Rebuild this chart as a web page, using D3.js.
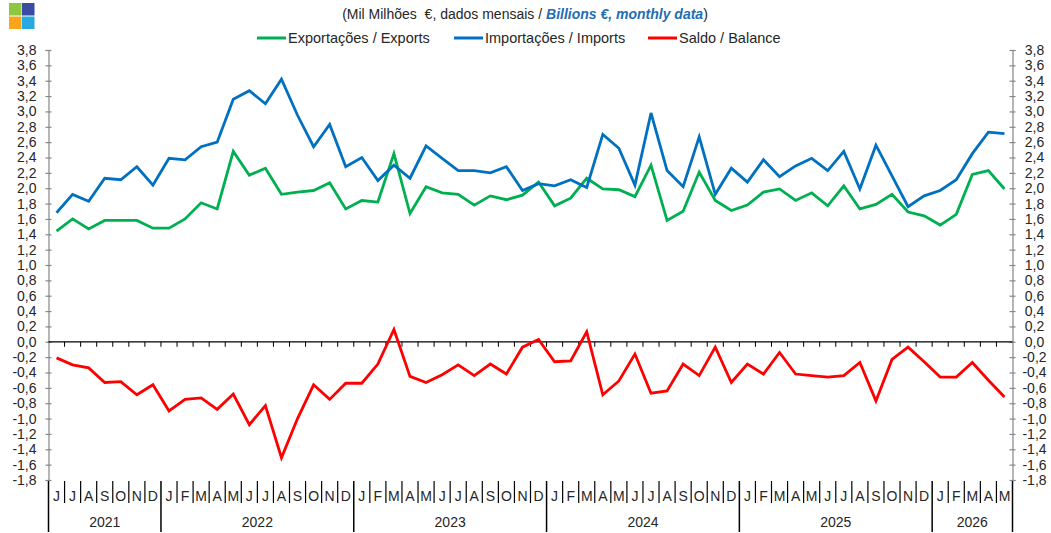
<!DOCTYPE html>
<html>
<head>
<meta charset="utf-8">
<script src="https://cdn.jsdelivr.net/npm/d3@7"></script>
<style>
  body { margin: 0; background: #fff; }
  svg text { font-family: "Liberation Sans", Arial, sans-serif; }
</style>
</head>
<body>
<div id="chart"></div>
<script>
// Data (mil milhões €, monthly, Jun 2021 - May 2026)
var monthLabels = ["J","J","A","S","O","N","D",
  "J","F","M","A","M","J","J","A","S","O","N","D",
  "J","F","M","A","M","J","J","A","S","O","N","D",
  "J","F","M","A","M","J","J","A","S","O","N","D",
  "J","F","M","A","M","J","J","A","S","O","N","D",
  "J","F","M","A","M"];
var yearLabels = ["2021","2022","2023","2024","2025","2026"];
var monthsPerYear = [7, 12, 12, 12, 12, 5];

var exportsData = [1.44,1.60,1.47,1.58,1.58,1.58,1.48,1.48,1.60,1.81,1.73,2.48,2.17,2.26,1.92,1.95,1.97,2.07,1.73,1.84,
  1.82,2.45,1.67,2.02,1.94,1.92,1.78,1.90,1.85,1.91,2.08,1.77,1.87,2.13,1.99,1.98,1.89,2.30,1.58,1.70,
  2.21,1.84,1.71,1.78,1.95,1.99,1.84,1.94,1.77,2.03,1.73,1.79,1.92,1.69,1.64,1.52,1.66,2.18,2.23,1.99];
var importsData = [1.68,1.92,1.83,2.13,2.11,2.28,2.04,2.39,2.37,2.54,2.60,3.16,3.27,3.10,3.42,2.95,2.54,2.83,2.28,2.40,
  2.10,2.30,2.13,2.55,2.39,2.23,2.23,2.20,2.28,1.97,2.06,2.03,2.11,2.01,2.70,2.52,2.04,2.98,2.23,2.02,
  2.67,1.92,2.26,2.08,2.37,2.15,2.29,2.39,2.23,2.48,1.99,2.56,2.16,1.76,1.90,1.97,2.11,2.45,2.73,2.71];
var balanceData = [-0.21,-0.30,-0.34,-0.53,-0.52,-0.69,-0.56,-0.90,-0.75,-0.73,-0.88,-0.68,-1.08,-0.83,-1.51,-1.00,-0.56,-0.75,-0.54,-0.54,
  -0.29,0.16,-0.45,-0.53,-0.43,-0.30,-0.44,-0.29,-0.42,-0.07,0.03,-0.26,-0.25,0.13,-0.69,-0.51,-0.16,-0.67,-0.64,-0.29,
  -0.44,-0.07,-0.53,-0.29,-0.42,-0.14,-0.42,-0.44,-0.46,-0.44,-0.27,-0.77,-0.23,-0.07,-0.26,-0.46,-0.46,-0.27,-0.50,-0.72];
var yTicks = [-1.8,-1.6,-1.4,-1.2,-1.0,-0.8,-0.6,-0.4,-0.2,0,0.2,0.4,0.6,0.8,1.0,1.2,1.4,1.6,1.8,2.0,2.2,2.4,2.6,2.8,3.0,3.2,3.4,3.6,3.8];

var series = [
  { name: "Exportações / Exports", values: exportsData, color: "#00b050" },
  { name: "Importações / Imports", values: importsData, color: "#0070c0" },
  { name: "Saldo / Balance", values: balanceData, color: "#ff0000" }
];

var svgWidth = 1051;
var svgHeight = 533;
var plot = { left: 48.5, right: 1012.5, top: 50, bottom: 480 };

var svg = d3.select("#chart").append("svg")
  .attr("width", svgWidth)
  .attr("height", svgHeight);

// scales
var x = d3.scaleBand().domain(d3.range(monthLabels.length)).range([plot.left, plot.right]);
var y = d3.scaleLinear().domain([-1.8, 3.8]).range([plot.bottom, plot.top]);

var pt = d3.formatLocale({ decimal: ",", thousands: ".", grouping: [3], currency: ["", "€"], minus: "-" });
var fmt = pt.format(".1f");

// logo
var logoColors = ["#8dc63f", "#3c4ba1", "#f9a51b", "#27aae1"];
svg.selectAll("rect.logo").data(logoColors).enter().append("rect")
  .attr("x", (d, i) => 9 + (i % 2) * 13)
  .attr("y", (d, i) => 3 + Math.floor(i / 2) * 13.5)
  .attr("width", 12.5).attr("height", 12.5)
  .attr("fill", d => d);

// title
var title = svg.append("text")
  .attr("x", 525).attr("y", 19)
  .attr("text-anchor", "middle")
  .attr("font-size", "14px")
  .attr("fill", "#262626")
  .style("white-space", "pre");
title.append("tspan").text("(Mil Milhões  €, dados mensais / ");
title.append("tspan").attr("font-weight", "bold").attr("font-style", "italic")
  .attr("fill", "#1f6db3").text("Billions €, monthly data");
title.append("tspan").text(")");

// legend
var legendX = [257, 454, 648];
var legend = svg.selectAll("g.legend").data(series).enter().append("g")
  .attr("transform", (d, i) => `translate(${legendX[i]}, 38)`);
legend.append("line")
  .attr("x1", 0).attr("x2", 29)
  .attr("stroke", d => d.color).attr("stroke-width", 3);
legend.append("text")
  .attr("x", 31).attr("y", 5)
  .attr("font-size", "14.5px").attr("fill", "#262626")
  .text(d => d.name);

// y axes (ticks cross the axis line)
var leftAxis = svg.append("g")
  .attr("transform", `translate(${plot.left}, 0)`)
  .call(d3.axisLeft(y).tickValues(yTicks).tickFormat(fmt).tickSize(3).tickPadding(9));
var rightAxis = svg.append("g")
  .attr("transform", `translate(${plot.right}, 0)`)
  .call(d3.axisRight(y).tickValues(yTicks).tickFormat(fmt).tickSize(3).tickPadding(9));
[leftAxis, rightAxis].forEach(function(ax) {
  ax.select(".domain").attr("stroke", "#868686").attr("stroke-width", 1.2);
  ax.selectAll(".tick line").attr("x1", -3).attr("x2", 3).attr("stroke", "#868686").attr("stroke-width", 1.2);
  ax.selectAll(".tick text").attr("font-size", "14px").attr("fill", "#262626")
    .attr("font-family", "Liberation Sans, Arial, sans-serif");
});
rightAxis.selectAll(".tick text").attr("text-anchor", "middle").attr("x", 22);

// zero line with month ticks
svg.append("line")
  .attr("x1", plot.left).attr("x2", plot.right)
  .attr("y1", y(0)).attr("y2", y(0))
  .attr("stroke", "#000").attr("stroke-width", 1.2);
svg.selectAll("line.zt").data(d3.range(1, monthLabels.length)).enter().append("line")
  .attr("x1", d => x(d)).attr("x2", d => x(d))
  .attr("y1", y(0)).attr("y2", y(0) + 5)
  .attr("stroke", "#000").attr("stroke-width", 1);

// category axis: months + years
var yearStarts = [0];
monthsPerYear.forEach(function(n, i) { yearStarts.push(yearStarts[i] + n); });
var bandEdge = i => i < monthLabels.length ? x(i) : plot.right;

svg.selectAll("line.md").data(d3.range(0, monthLabels.length + 1)).enter().append("line")
  .attr("x1", d => bandEdge(d)).attr("x2", d => bandEdge(d))
  .attr("y1", plot.bottom + 1)
  .attr("y2", d => yearStarts.indexOf(d) >= 0 ? 532 : 503)
  .attr("stroke", "#000").attr("stroke-width", d => yearStarts.indexOf(d) >= 0 ? 1.5 : 1.2);

svg.selectAll("text.month").data(monthLabels).enter().append("text")
  .attr("x", (d, i) => x(i) + x.bandwidth() / 2)
  .attr("y", 501)
  .attr("text-anchor", "middle")
  .attr("font-size", "14px").attr("fill", "#262626")
  .text(d => d);

svg.selectAll("text.year").data(yearLabels).enter().append("text")
  .attr("x", (d, i) => (bandEdge(yearStarts[i]) + bandEdge(yearStarts[i + 1])) / 2)
  .attr("y", 527)
  .attr("text-anchor", "middle")
  .attr("font-size", "14px").attr("fill", "#262626")
  .text(d => d);

// lines
var line = d3.line()
  .x((d, i) => x(i) + x.bandwidth() / 2)
  .y(d => y(d));
svg.selectAll("path.series").data(series).enter().append("path")
  .attr("d", d => line(d.values))
  .attr("fill", "none")
  .attr("stroke", d => d.color)
  .attr("stroke-width", 2.8)
  .attr("stroke-linejoin", "miter");
</script>
</body>
</html>
